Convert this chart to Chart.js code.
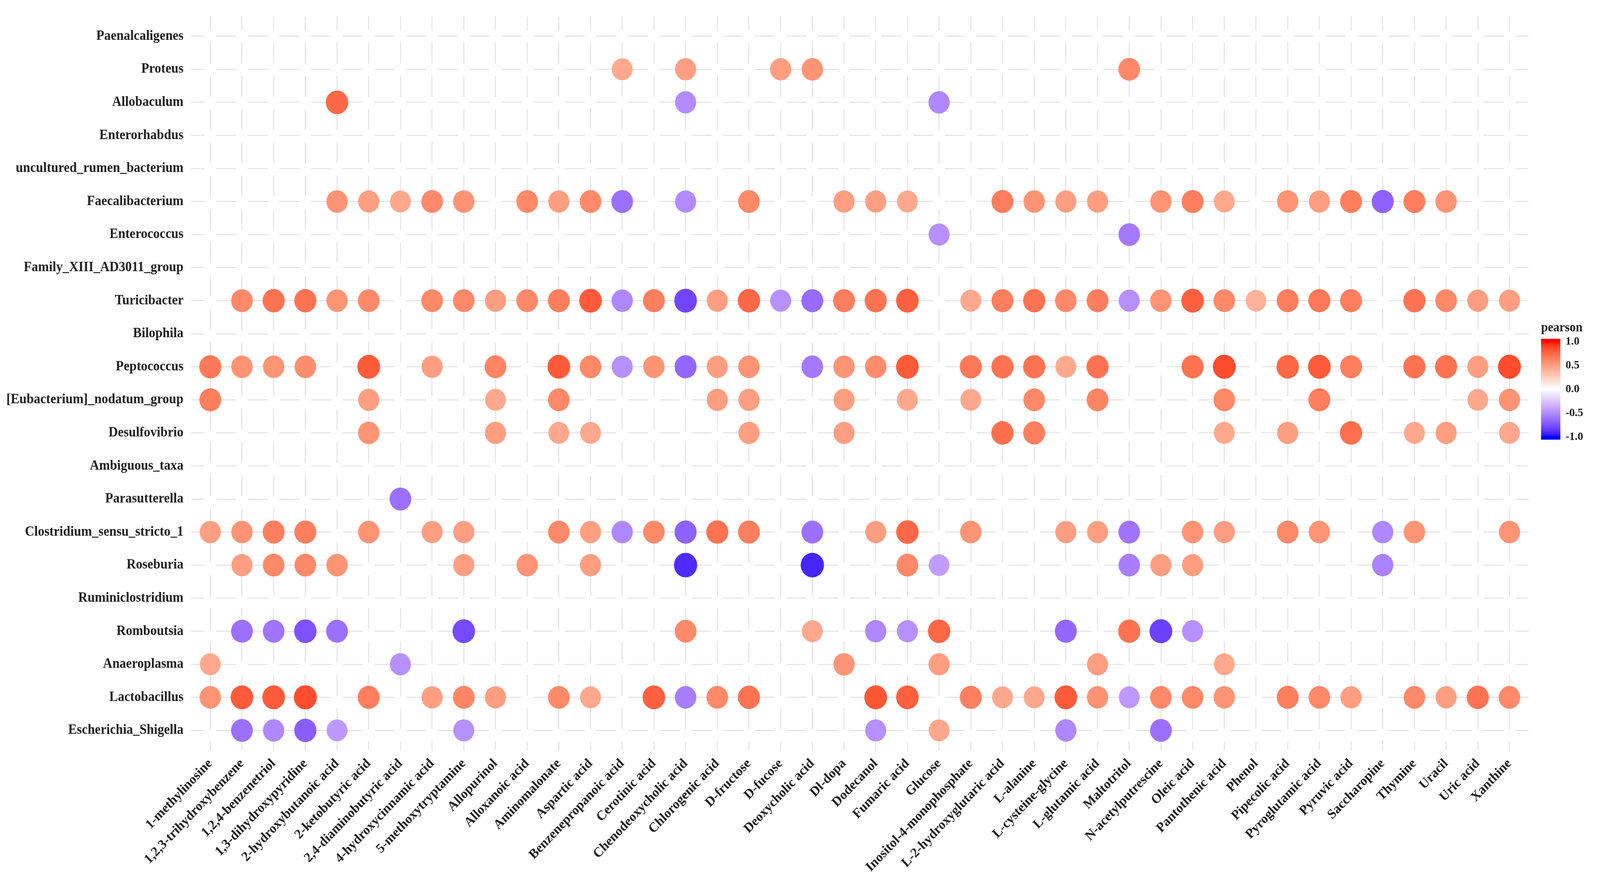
<!DOCTYPE html>
<html><head><meta charset="utf-8">
<script src="https://cdn.jsdelivr.net/npm/chart.js@4"></script>
<style>html,body{margin:0;padding:0;background:#fff;overflow:hidden;width:100vw;height:100vh}
#c{display:block;width:100vw;height:100vh}</style>
</head><body><canvas id="c" width="4317" height="2247" style="width:100vw;height:100vh"></canvas>
<script>
const _ = null;
const metabolites = ["1-methylinosine","1,2,3-trihydroxybenzene","1,2,4-benzenetriol","1,3-dihydroxypyridine","2-hydroxybutanoic acid","2-ketobutyric acid","2,4-diaminobutyric acid","4-hydroxycinnamic acid","5-methoxytryptamine","Allopurinol","Alloxanoic acid","Aminomalonate","Aspartic acid","Benzenepropanoic acid","Cerotinic acid","Chenodeoxycholic acid","Chlorogenic acid","D-fructose","D-fucose","Deoxycholic acid","Dl-dopa","Dodecanol","Fumaric acid","Glucose","Inositol-4-monophosphate","L-2-hydroxyglutaric acid","L-alanine","L-cysteine-glycine","L-glutamic acid","Maltotritol","N-acetylputrescine","Oleic acid","Pantothenic acid","Phenol","Pipecolic acid","Pyroglutamic acid","Pyruvic acid","Saccharopine","Thymine","Uracil","Uric acid","Xanthine"];
const genera = ["Paenalcaligenes","Proteus","Allobaculum","Enterorhabdus","uncultured_rumen_bacterium","Faecalibacterium","Enterococcus","Family_XIII_AD3011_group","Turicibacter","Bilophila","Peptococcus","[Eubacterium]_nodatum_group","Desulfovibrio","Ambiguous_taxa","Parasutterella","Clostridium_sensu_stricto_1","Roseburia","Ruminiclostridium","Romboutsia","Anaeroplasma","Lactobacillus","Escherichia_Shigella"];

// pearson r per metabolite (42 columns, 7 groups of 6); null = not shown
const paenalcaligenes = [_,_,_,_,_,_, _,_,_,_,_,_, _,_,_,_,_,_, _,_,_,_,_,_, _,_,_,_,_,_, _,_,_,_,_,_, _,_,_,_,_,_];
const proteus        = [_,_,_,_,_,_, _,_,_,_,_,_, _,.45,_,.5,_,_, .5,.55,_,_,_,_, _,_,_,_,_,.6, _,_,_,_,_,_, _,_,_,_,_,_];
const allobaculum    = [_,_,_,_,.75,_, _,_,_,_,_,_, _,_,_,-.5,_,_, _,_,_,_,_,-.52, _,_,_,_,_,_, _,_,_,_,_,_, _,_,_,_,_,_];
const enterorhabdus  = [_,_,_,_,_,_, _,_,_,_,_,_, _,_,_,_,_,_, _,_,_,_,_,_, _,_,_,_,_,_, _,_,_,_,_,_, _,_,_,_,_,_];
const unculturedRumen= [_,_,_,_,_,_, _,_,_,_,_,_, _,_,_,_,_,_, _,_,_,_,_,_, _,_,_,_,_,_, _,_,_,_,_,_, _,_,_,_,_,_];
const faecalibacterium=[_,_,_,_,.55,.5, .45,.6,.55,_,.6,.5, .6,-.62,_,-.5,_,.6, _,_,.5,.5,.45,_, _,.65,.55,.5,.5,_, .55,.65,.45,_,.55,.5, .65,-.68,.65,.55,_,_];
const enterococcus   = [_,_,_,_,_,_, _,_,_,_,_,_, _,_,_,_,_,_, _,_,_,_,_,-.48, _,_,_,_,_,-.58, _,_,_,_,_,_, _,_,_,_,_,_];
const familyXIII     = [_,_,_,_,_,_, _,_,_,_,_,_, _,_,_,_,_,_, _,_,_,_,_,_, _,_,_,_,_,_, _,_,_,_,_,_, _,_,_,_,_,_];
const turicibacter   = [_,.6,.7,.7,.55,.6, _,.6,.6,.5,.6,.65, .8,-.52,.65,-.8,.5,.75, -.48,-.64,.65,.7,.78,_, .45,.65,.7,.6,.65,-.48, .55,.78,.6,.4,.65,.68, .65,_,.7,.6,.5,.5];
const bilophila      = [_,_,_,_,_,_, _,_,_,_,_,_, _,_,_,_,_,_, _,_,_,_,_,_, _,_,_,_,_,_, _,_,_,_,_,_, _,_,_,_,_,_];
const peptococcus    = [.68,.55,.55,.58,_,.8, _,.5,_,.62,_,.8, .6,-.48,.55,-.66,.5,.55, _,-.58,.55,.58,.8,_, .68,.7,.7,.45,.7,_, _,.7,.85,_,.75,.8, .65,_,.7,.7,.5,.85];
const nodatum        = [.65,_,_,_,_,.5, _,_,_,.45,_,.6, _,_,_,_,.5,.5, _,_,.5,_,.45,_, .45,_,.6,_,.62,_, _,_,.6,_,_,.65, _,_,_,_,.45,.55];
const desulfovibrio  = [_,_,_,_,_,.55, _,_,_,.5,_,.45, .45,_,_,_,_,.5, _,_,.5,_,_,_, _,.72,.65,_,_,_, _,_,.45,_,.5,_, .72,_,.45,.5,_,.45];
const ambiguousTaxa  = [_,_,_,_,_,_, _,_,_,_,_,_, _,_,_,_,_,_, _,_,_,_,_,_, _,_,_,_,_,_, _,_,_,_,_,_, _,_,_,_,_,_];
const parasutterella = [_,_,_,_,_,_, -.62,_,_,_,_,_, _,_,_,_,_,_, _,_,_,_,_,_, _,_,_,_,_,_, _,_,_,_,_,_, _,_,_,_,_,_];
const clostridium    = [.5,.55,.65,.65,_,.55, _,.5,.5,_,_,.6, .5,-.52,.6,-.68,.7,.65, _,-.62,_,.5,.75,_, .55,_,_,.5,.5,-.6, _,.55,.5,_,.6,.55, _,-.52,.55,_,_,.55];
const roseburia      = [_,.5,.6,.6,.55,_, _,_,.5,_,.55,_, .5,_,_,-.9,_,_, _,-.92,_,_,.6,-.42, _,_,_,_,_,-.56, .5,.5,_,_,_,_, _,-.54,_,_,_,_];
const ruminiclostridium=[_,_,_,_,_,_, _,_,_,_,_,_, _,_,_,_,_,_, _,_,_,_,_,_, _,_,_,_,_,_, _,_,_,_,_,_, _,_,_,_,_,_];
const romboutsia     = [_,-.62,-.6,-.75,-.62,_, _,_,-.78,_,_,_, _,_,_,.6,_,_, _,.45,_,-.52,-.48,.75, _,_,_,-.66,_,.7, -.82,-.48,_,_,_,_, _,_,_,_,_,_];
const anaeroplasma   = [.45,_,_,_,_,_, -.48,_,_,_,_,_, _,_,_,_,_,_, _,_,.55,_,_,.5, _,_,_,_,.5,_, _,_,.45,_,_,_, _,_,_,_,_,_];
const lactobacillus  = [.55,.8,.8,.85,_,.65, _,.5,.62,.5,_,.6, .45,_,.78,-.56,.6,.7, _,_,_,.82,.78,_, .65,.45,.45,.8,.55,-.44, .6,.6,.55,_,.65,.6, .5,_,.6,.5,.7,.6];
const escherichia    = [_,-.62,-.52,-.7,-.44,_, _,_,-.48,_,_,_, _,_,_,_,_,_, _,_,_,-.48,_,.45, _,_,_,-.52,_,_, -.62,_,_,_,_,_, _,_,_,_,_,_];

const rows = [paenalcaligenes,proteus,allobaculum,enterorhabdus,unculturedRumen,faecalibacterium,enterococcus,familyXIII,turicibacter,bilophila,peptococcus,nodatum,desulfovibrio,ambiguousTaxa,parasutterella,clostridium,roseburia,ruminiclostridium,romboutsia,anaeroplasma,lactobacillus,escherichia];
const legendTicks = [1.0, 0.5, 0.0, -0.5, -1.0];
const legendLabels = ["1.0","0.5","0.0","-0.5","-1.0"];
const legendTitle = "pearson";

// --- Lab colour interpolation (blue - white - red) ---
function lin(c){c/=255;return c<=0.04045?c/12.92:Math.pow((c+0.055)/1.055,2.4);}
function unlin(c){c=c<=0.0031308?12.92*c:1.055*Math.pow(c,1/2.4)-0.055;return Math.max(0,Math.min(255,Math.round(c*255)));}
function rgb2lab(r,g,b){
  const R=lin(r),G=lin(g),B=lin(b);
  let X=(0.4124564*R+0.3575761*G+0.1804375*B)/0.95047;
  let Y=(0.2126729*R+0.7151522*G+0.0721750*B);
  let Z=(0.0193339*R+0.1191920*G+0.9503041*B)/1.08883;
  const f=t=>t>0.008856?Math.cbrt(t):7.787*t+16/116;
  const fx=f(X),fy=f(Y),fz=f(Z);
  return [116*fy-16,500*(fx-fy),200*(fy-fz)];
}
function lab2rgb(L,a,b){
  const fy=(L+16)/116,fx=fy+a/500,fz=fy-b/200;
  const fi=t=>t*t*t>0.008856?t*t*t:(t-16/116)/7.787;
  const X=fi(fx)*0.95047,Y=fi(fy),Z=fi(fz)*1.08883;
  const R=3.2404542*X-1.5371385*Y-0.4985314*Z;
  const G=-0.9692660*X+1.8760108*Y+0.0415560*Z;
  const B=0.0556434*X-0.2040259*Y+1.0572252*Z;
  return [unlin(R),unlin(G),unlin(B)];
}
const WHITE=rgb2lab(255,255,255), RED=rgb2lab(255,0,0), BLUE=rgb2lab(0,0,255);
function colorFor(v){
  const t=Math.min(1,Math.abs(v)), e=v>=0?RED:BLUE;
  const c=lab2rgb(WHITE[0]+(e[0]-WHITE[0])*t,WHITE[1]+(e[1]-WHITE[1])*t,WHITE[2]+(e[2]-WHITE[2])*t);
  return 'rgb('+c[0]+','+c[1]+','+c[2]+')';
}

const points = [];
rows.forEach((row, yi) => row.forEach((v, xi) => { if (v !== null) points.push({x: xi, y: yi, v: v}); }));

const FONT = {family: "'Liberation Serif','DejaVu Serif',serif", size: 35, weight: 'bold'};
const GRID = '#e6e6e6';

const legendPlugin = {
  id: 'pearsonBar',
  afterDraw(chart) {
    const ctx = chart.ctx;
    const x0 = 4158, w = 52, yTop = 867, yBot = 1125, yMid = 996, span = 122;
    ctx.save();
    for (let y = yTop; y < yBot; y++) {
      let v = (yMid - (y + 0.5)) / span;
      v = Math.max(-1, Math.min(1, v));
      ctx.fillStyle = colorFor(v);
      ctx.fillRect(x0, y, w, 1.2);
    }
    ctx.fillStyle = '#1e1e1e';
    ctx.font = "bold 33px 'Liberation Serif', serif";
    ctx.textAlign = 'left'; ctx.textBaseline = 'alphabetic';
    ctx.fillText(legendTitle, x0, 848);
    ctx.font = "bold 30px 'Liberation Serif', serif";
    ctx.textBaseline = 'middle';
    legendTicks.forEach((t, i) => {
      const y = yMid - t * span;
      ctx.fillText(legendLabels[i], x0 + w + 14, y);
    });
    ctx.restore();
  }
};

new Chart(document.getElementById('c'), {
  type: 'scatter',
  data: { datasets: [{
    data: points,
    pointRadius: c => 25 + 7 * Math.abs(c.raw ? c.raw.v : 0.5),
    pointHoverRadius: c => 25 + 7 * Math.abs(c.raw ? c.raw.v : 0.5),
    backgroundColor: c => colorFor(c.raw ? c.raw.v : 0),
    borderWidth: 0,
    showLine: false
  }]},
  options: {
    responsive: false, devicePixelRatio: 1, animation: false,
    layout: { padding: { top: 29, right: 193, bottom: 0, left: 0 } },
    plugins: { legend: { display: false }, tooltip: { enabled: false } },
    scales: {
      x: {
        type: 'linear', min: -0.6, max: metabolites.length - 0.4,
        afterBuildTicks: s => { s.ticks = metabolites.map((_, i) => ({ value: i })); },
        afterFit: s => { s.height = 327; },
        ticks: { autoSkip: false, minRotation: 45, maxRotation: 45, padding: 14,
                 callback: v => metabolites[v], font: FONT, color: '#1e1e1e' },
        grid: { color: GRID, lineWidth: 3, drawTicks: false },
        border: { display: false, dash: [54.2, 31], dashOffset: 18.7 }
      },
      y: {
        type: 'linear', min: -0.6, max: genera.length - 0.4, reverse: true,
        afterBuildTicks: s => { s.ticks = genera.map((_, i) => ({ value: i })); },
        afterFit: s => { s.width = 516; },
        ticks: { autoSkip: false, padding: 21, callback: v => genera[v], font: FONT, color: '#1e1e1e' },
        grid: { color: GRID, lineWidth: 3, drawTicks: false },
        border: { display: false, dash: [54.5, 31], dashOffset: 18.7 }
      }
    }
  },
  plugins: [legendPlugin]
});
</script>
</body></html>
